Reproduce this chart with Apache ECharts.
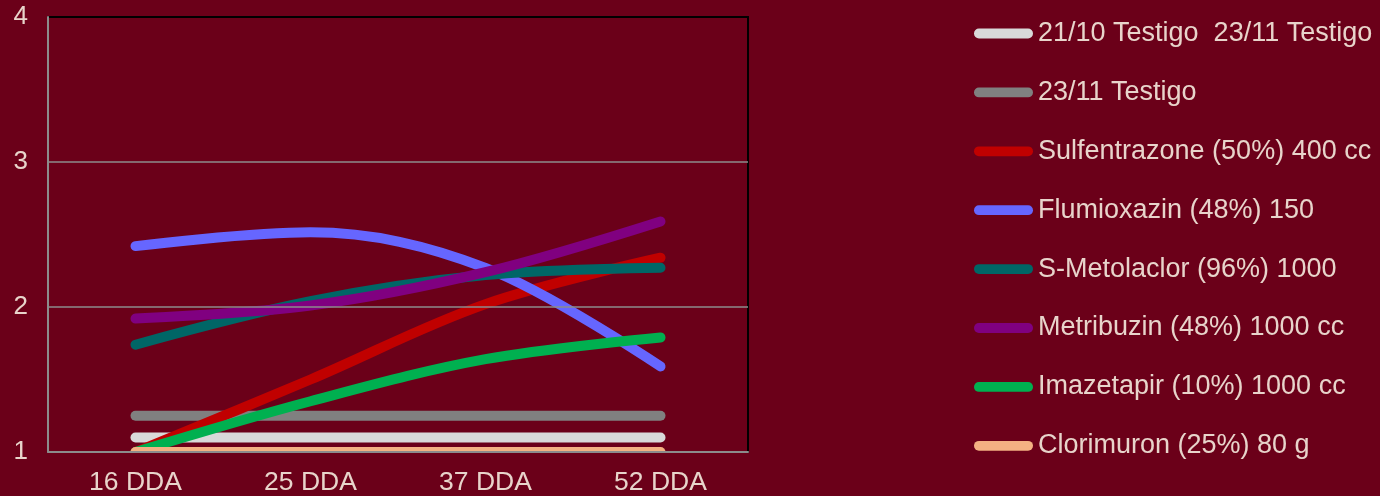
<!DOCTYPE html>
<html>
<head>
<meta charset="utf-8">
<script src="https://cdn.jsdelivr.net/npm/echarts@6/dist/echarts.min.js"></script>
<style>
  html, body { margin: 0; padding: 0; background: #6B0019; }
  #chart { width: 1380px; height: 496px; }
</style>
</head>
<body>
<div id="chart"></div>
<script>
// Sampling dates (days after application)
const categories = ['16 DDA', '25 DDA', '37 DDA', '52 DDA'];

// Series values per sampling date
const testigo2110 = [1.1, 1.1, 1.1, 1.1];
const testigo2311 = [1.25, 1.25, 1.25, 1.25];
const sulfentrazone = [1.0, 1.5, 2.02, 2.34];
const flumioxazin = [2.42, 2.515, 2.27, 1.59];
const metolaclor = [1.74, 2.04, 2.22, 2.27];
const metribuzin = [1.92, 2.01, 2.24, 2.59];
const imazetapir = [1.0, 1.35, 1.64, 1.79];
const clorimuron = [1.0, 1.0, 1.0, 1.0];

const seriesNames = [
  '21/10 Testigo  23/11 Testigo',
  '23/11 Testigo',
  'Sulfentrazone (50%) 400 cc',
  'Flumioxazin (48%) 150',
  'S-Metolaclor (96%) 1000',
  'Metribuzin (48%) 1000 cc',
  'Imazetapir (10%) 1000 cc',
  'Clorimuron (25%) 80 g'
];
const seriesValues = [testigo2110, testigo2311, sulfentrazone, flumioxazin,
  metolaclor, metribuzin, imazetapir, clorimuron];
const seriesColors = ['#D9D9D9', '#808080', '#C00000', '#6666FF',
  '#006666', '#800080', '#00B050', '#F4B183'];

// y-axis tick values
const yTicks = [1, 2, 3, 4];

const bg = '#6B0019';
const textColor = '#E8D4CB';
const font = '"Liberation Sans", Arial, sans-serif';

// plot area placement
const W = 1380, H = 496;
const grid = { left: 48, right: 632, top: 17, bottom: 44 };

const chart = echarts.init(document.getElementById('chart'));

const series = seriesNames.map((name, i) => ({
  name: name,
  type: 'line',
  data: seriesValues[i],
  smooth: 0.35,
  symbol: 'none',
  color: seriesColors[i],
  lineStyle: { width: 10, color: seriesColors[i], cap: 'round', join: 'round' },
  emphasis: { disabled: true },
  z: 2 + i * 0.01
}));

const plotBottom = H - grid.bottom;

chart.setOption({
  backgroundColor: bg,
  animation: false,
  grid: Object.assign({
    show: true, borderColor: '#000000', borderWidth: 2,
    backgroundColor: 'transparent'
  }, grid),
  // hides the part of the thick lines that spills below the x axis
  graphic: [{
    type: 'rect',
    z: 3,
    silent: true,
    shape: { x: grid.left - 8, y: plotBottom + 1, width: W - grid.left - grid.right + 16, height: 9 },
    style: { fill: bg }
  }],
  xAxis: {
    type: 'category',
    data: categories,
    boundaryGap: true,
    z: 4,
    axisLine: { lineStyle: { color: '#8C8C8C', width: 2 } },
    axisTick: { show: false },
    axisLabel: { color: textColor, fontSize: 26.5, fontFamily: font, margin: 17 },
    splitLine: { show: false }
  },
  yAxis: {
    type: 'value',
    min: yTicks[0],
    max: yTicks[yTicks.length - 1],
    interval: 1,
    z: 4,
    axisLine: { show: true, lineStyle: { color: '#8C8C8C', width: 2 } },
    axisTick: { show: false },
    axisLabel: { color: textColor, fontSize: 26, fontFamily: font, margin: 20 },
    splitLine: { show: true, showMinLine: false, showMaxLine: false,
      lineStyle: { color: '#8C8C8C', width: 1.5 } }
  },
  legend: {
    orient: 'vertical',
    left: 974,
    top: 20,
    padding: 0,
    itemWidth: 59,
    itemHeight: 10,
    itemGap: 31.9,
    icon: 'path://M5,0 L55,0 A5,5 0 0 1 55,10 L5,10 A5,5 0 0 1 5,0 Z',
    textStyle: { color: textColor, fontSize: 27, fontFamily: font, lineHeight: 26 },
    data: seriesNames
  },
  series: series
});
</script>
</body>
</html>
